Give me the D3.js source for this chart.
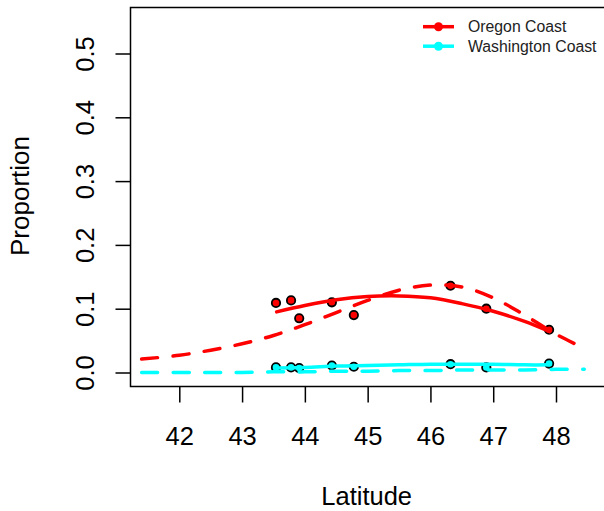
<!DOCTYPE html>
<html>
<head>
<meta charset="utf-8">
<script src="https://cdn.jsdelivr.net/npm/d3@7"></script>
<style>
  body { margin: 0; background: #fff; }
  svg { display: block; font-family: "Liberation Sans", Arial, sans-serif; }
</style>
</head>
<body>
<div id="chart"></div>
<script>
// observed points
var sampleLat = [43.54, 43.78, 43.91, 44.43, 44.78, 46.32, 46.89, 47.89];
var oregonPts = [0.109, 0.113, 0.085, 0.110, 0.090, 0.136, 0.100, 0.067];
var washPts   = [0.008, 0.008, 0.007, 0.011, 0.009, 0.013, 0.008, 0.014];

// fitted curves
var fitLat      = [43.55, 44.0, 44.5, 45.0, 45.5, 46.0, 46.5, 47.0, 47.5, 47.9];
var oregonFit   = [0.095, 0.105, 0.114, 0.119, 0.120, 0.117, 0.108, 0.096, 0.080, 0.064];
var washFit     = [0.007, 0.008, 0.010, 0.011, 0.012, 0.013, 0.013, 0.013, 0.012, 0.012];

var predLat     = [41.4, 42.0, 42.5, 43.0, 43.5, 44.0, 44.5, 45.0, 45.5, 46.0, 46.5, 47.0, 47.5, 48.0, 48.45];
var oregonPred  = [0.021, 0.027, 0.035, 0.045, 0.058, 0.075, 0.094, 0.113, 0.129, 0.137, 0.134, 0.117, 0.090, 0.060, 0.038];
var washPred    = [0.000, 0.000, 0.000, 0.000, 0.001, 0.001, 0.002, 0.002, 0.003, 0.003, 0.004, 0.004, 0.004, 0.005, 0.005];

var xTicks = [42, 43, 44, 45, 46, 47, 48];
var yTicks = [0, 0.1, 0.2, 0.3, 0.4, 0.5];

var seriesNames = ["Oregon Coast", "Washington Coast"];
var seriesColors = ["#ff0000", "#00ffff"];

var width = 604, height = 511;

var svg = d3.select("#chart").append("svg")
    .attr("width", width)
    .attr("height", height);

//scales
var x = d3.scaleLinear().domain([42, 48]).range([179.3, 556]);
var y = d3.scaleLinear().domain([0, 0.5]).range([372.5, 53.5]);

//box (right side runs off the picture)
svg.append("path")
    .attr("d", "M" + width + ",7.5H130.5V386.5H" + width)
    .attr("fill", "none")
    .attr("stroke", "#000")
    .attr("stroke-width", 1.5);

//x axis
var xAxis = svg.append("g")
    .attr("transform", "translate(0,386.5)")
    .call(d3.axisBottom(x).tickValues(xTicks).tickSize(16).tickPadding(24)
        .tickFormat(d3.format("d")));
xAxis.select(".domain").remove();
xAxis.selectAll("line").attr("stroke-width", 1.5);
xAxis.selectAll("text").attr("font-size", 25.5).attr("fill", "#000")
    .attr("font-family", "Liberation Sans, Arial, sans-serif");

//y axis (rotated labels like R)
var yAxis = svg.append("g")
    .attr("transform", "translate(130.5,0)")
    .call(d3.axisLeft(y).tickValues(yTicks).tickSize(15).tickFormat(d3.format(".1f")));
yAxis.select(".domain").remove();
yAxis.selectAll("line").attr("stroke-width", 1.5);
yAxis.selectAll("text").remove();
yAxis.selectAll(".tick").append("text")
    .attr("transform", "translate(-37,0) rotate(-90)")
    .attr("text-anchor", "middle")
    .attr("font-size", 25.5)
    .attr("fill", "#000")
    .attr("font-family", "Liberation Sans, Arial, sans-serif")
    .text(function(d) { return d3.format(".1f")(d); });

//axis titles
svg.append("text")
    .attr("x", 366.7)
    .attr("y", 505)
    .attr("text-anchor", "middle")
    .attr("font-size", 25.5)
    .text("Latitude");

svg.append("text")
    .attr("transform", "translate(29,196) rotate(-90)")
    .attr("text-anchor", "middle")
    .attr("font-size", 26)
    .text("Proportion");

//points
var ptSets = [oregonPts, washPts];
ptSets.forEach(function(vals, k) {
    svg.append("g").selectAll("circle")
        .data(vals)
        .enter().append("circle")
        .attr("cx", function(d, i) { return x(sampleLat[i]); })
        .attr("cy", function(d) { return y(d); })
        .attr("r", 4.2)
        .attr("fill", seriesColors[k])
        .attr("stroke", "#000")
        .attr("stroke-width", 1.8);
});

//lines
var line = d3.line().curve(d3.curveCatmullRom);

function drawLine(lats, vals, color, dashed) {
    svg.append("path")
        .datum(vals.map(function(v, i) { return [x(lats[i]), y(v)]; }))
        .attr("d", line)
        .attr("fill", "none")
        .attr("stroke", color)
        .attr("stroke-width", 3.5)
        .attr("stroke-linecap", "round")
        .attr("stroke-dasharray", dashed ? "16,15.5" : null);
}

drawLine(fitLat, oregonFit, seriesColors[0], false);
drawLine(predLat, oregonPred, seriesColors[0], true);
drawLine(fitLat, washFit, seriesColors[1], false);
drawLine(predLat, washPred, seriesColors[1], true);

//legend
var legend = svg.append("g");
seriesNames.forEach(function(name, k) {
    var ly = 26.7 + k * 19.5;
    legend.append("line")
        .attr("x1", 423).attr("x2", 454)
        .attr("y1", ly).attr("y2", ly)
        .attr("stroke", seriesColors[k])
        .attr("stroke-width", 3.5);
    legend.append("circle")
        .attr("cx", 438.5).attr("cy", ly).attr("r", 4.5)
        .attr("fill", seriesColors[k]);
    legend.append("text")
        .attr("x", 468).attr("y", ly + 5.5)
        .attr("font-size", 15.8)
        .attr("fill", "#222")
        .text(name);
});
</script>
</body>
</html>
